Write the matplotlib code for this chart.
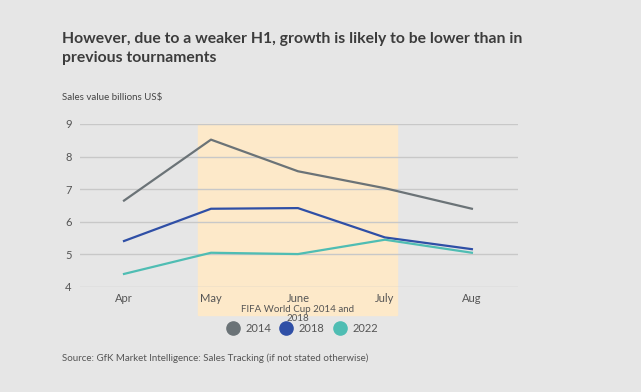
import matplotlib
matplotlib.use("Agg")
import matplotlib.pyplot as plt
from matplotlib.lines import Line2D

months = ["Apr", "May", "June", "July", "Aug"]
sales_2014 = [6.65, 8.52, 7.55, 7.03, 6.40]
sales_2018 = [5.41, 6.40, 6.42, 5.52, 5.16]
sales_2022 = [4.40, 5.05, 5.01, 5.45, 5.05]
years = ["2014", "2018", "2022"]
colors = ["#6b7377", "#2f4fa6", "#4fbdb3"]

bg = "#e6e6e6"
txt = "#444444"

plt.rcParams['font.family'] = ['Lato', 'DejaVu Sans']

fig = plt.figure(figsize=(6.41, 3.92), dpi=100, facecolor=bg)
ax = fig.add_axes([0.1248, 0.2679, 0.6833, 0.4158], facecolor=bg)

x = list(range(len(months)))

# world cup period
ax.axvspan(0.85, 3.14, ymin=-0.172, ymax=1.0, color="#fde9c9", zorder=0, clip_on=False)

for vals, c in zip([sales_2014, sales_2018, sales_2022], colors):
    ax.plot(x, vals, color=c, linewidth=1.6, zorder=3)

ax.set_xlim(-0.506, 4.53)
ax.set_ylim(4, 9)
ax.set_yticks(range(4, 10))
ax.set_xticks(x)
ax.set_xticklabels(months)
ax.grid(axis="y", color="#c8c8c8", linewidth=1, zorder=1)
ax.set_axisbelow(True)
for s in ax.spines.values():
    s.set_visible(False)
ax.tick_params(length=0, labelsize=8, labelcolor="#555555")
ax.tick_params(axis="x", pad=4)
ax.tick_params(axis="y", pad=6)

ax.text(2, -0.11, "FIFA World Cup 2014 and\n2018", transform=ax.get_xaxis_transform(),
        ha="center", va="top", fontsize=7, color="#555555", linespacing=1.0)

handles = [Line2D([0], [0], marker="o", linestyle="", markersize=9.5,
                  markerfacecolor=c, markeredgecolor=c) for c in colors]
fig.legend(handles, years, loc="center", bbox_to_anchor=(0.472, 0.161), ncol=3,
           frameon=False, fontsize=8, labelcolor="#555555", handletextpad=0.6,
           columnspacing=0.9, handlelength=1.0)

fig.text(0.097, 0.876, "However, due to a weaker H1, growth is likely to be lower than in\nprevious tournaments",
         ha="left", va="center", fontsize=11.3, fontweight="bold", color="#3c3c3c", linespacing=1.42)
fig.text(0.097, 0.752, "Sales value billions US$", ha="left", va="center", fontsize=7, color=txt)
fig.text(0.097, 0.087, "Source: GfK Market Intelligence: Sales Tracking (if not stated otherwise)",
         ha="left", va="center", fontsize=7, color="#555555")

fig.savefig("out.png", dpi=100, facecolor=bg)
